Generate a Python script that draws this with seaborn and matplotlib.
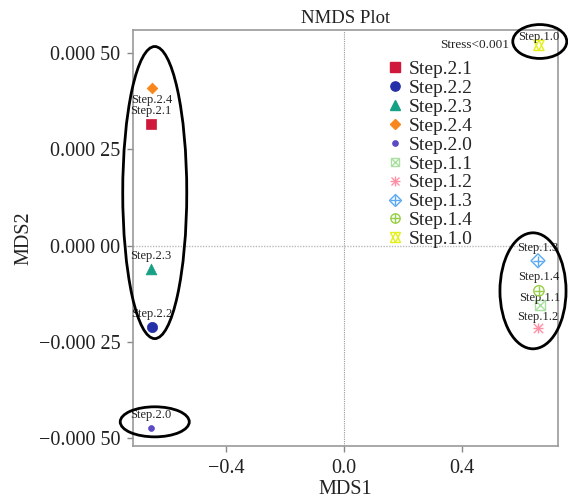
import matplotlib
matplotlib.use("Agg")
import matplotlib.pyplot as plt
from matplotlib.patches import Ellipse
from matplotlib.lines import Line2D
from matplotlib.legend_handler import HandlerTuple
from matplotlib.ticker import FixedLocator, FixedFormatter
import seaborn as sns

# NMDS scores
samples = ["Step.2.1", "Step.2.2", "Step.2.3", "Step.2.4", "Step.2.0",
           "Step.1.1", "Step.1.2", "Step.1.3", "Step.1.4", "Step.1.0"]
mds1 = [-0.654, -0.651, -0.654, -0.651, -0.654,
        0.664, 0.658, 0.658, 0.661, 0.661]
mds2 = [0.000317, -0.000210, -0.000060, 0.000410, -0.000473,
        -0.000153, -0.000213, -0.000039, -0.000117, 0.000520]

colors = ["#d0183c", "#2530a8", "#16a085", "#f7861c", "#5b4bc4",
          "#a9dfa0", "#ff8fa6", "#5aa9f2", "#96cf46", "#e4f018"]

xticks = [-0.4, 0.0, 0.4]
xtick_labels = ["\u22120.4", "0.0", "0.4"]
yticks = [0.0005, 0.00025, 0.0, -0.00025, -0.0005]
ytick_labels = ["0.000 50", "0.000 25", "0.000 00", "\u22120.000 25", "\u22120.000 50"]

# marker layers for each sample: (marker, kind, size)
# kind: "fill" solid, "open" hollow outline, "line" line-art marker
marker_layers = [
    [("s", "fill", 55)],
    [("o", "fill", 55)],
    [("^", "fill", 60)],
    [("D", "fill", 30)],
    [("o", "fill", 18)],
    [("s", "open", 50), ("x", "line", 50)],
    [("+", "line", 60), ("x", "line", 45)],
    [("D", "open", 50), ("+", "line", 60)],
    [("o", "open", 55), ("+", "line", 55)],
    [("^", "open", 55), ("v", "open", 55)],
]
# label offsets (points) relative to each point
label_offsets = [(0, 9), (0, 9), (0, 9), (0, -9), (0, 9),
                 (0, 5), (0, 8), (0, 9), (0, 10), (0, 6)]

# ellipses: (x, y, width, height)
ellipses = [(-0.641, 0.000138, 0.217, 0.000758),
            (-0.641, -0.000457, 0.234, 0.000078),
            (0.664, 0.000530, 0.183, 0.000088),
            (0.641, -0.000117, 0.224, 0.000301)]

sns.set_style("white")
plt.rcParams["font.family"] = ["Liberation Serif", "DejaVu Serif"]

fig = plt.figure(figsize=(5.68, 4.99), dpi=100)
ax = fig.add_axes([0.234, 0.106, 0.748, 0.834])

ax.axhline(0, color="#bbbbbb", lw=1.0, ls=(0, (1, 1)), zorder=0)
ax.axvline(0, color="#999999", lw=0.8, ls=(0, (1, 1)), zorder=0)

handles = []
for i, name in enumerate(samples):
    parts = []
    for m, kind, s in marker_layers[i]:
        ms = s ** 0.5 * 0.9
        if kind == "fill":
            sns.scatterplot(x=[mds1[i]], y=[mds2[i]], ax=ax, marker=m, s=s,
                            color=colors[i], edgecolor=colors[i], linewidth=0.5,
                            legend=False, zorder=3)
            parts.append(Line2D([], [], ls="", marker=m, color=colors[i], markersize=ms))
        elif kind == "open":
            sns.scatterplot(x=[mds1[i]], y=[mds2[i]], ax=ax, marker=m, s=s,
                            facecolor="none", edgecolor=colors[i], linewidth=1.0,
                            legend=False, zorder=3)
            parts.append(Line2D([], [], ls="", marker=m, color=colors[i],
                                mfc="none", mew=1.0, markersize=ms))
        else:
            sns.scatterplot(x=[mds1[i]], y=[mds2[i]], ax=ax, marker=m, s=s,
                            color=colors[i], linewidth=1.0,
                            legend=False, zorder=3)
            parts.append(Line2D([], [], ls="", marker=m, color=colors[i],
                                mew=1.0, markersize=ms))
    handles.append(tuple(parts))
    dx, dy = label_offsets[i]
    ax.annotate(name, (mds1[i], mds2[i]), xytext=(dx, dy), textcoords="offset points",
                ha="center", va="center", fontsize=9, color="#222222")

for cx, cy, w, h in ellipses:
    ax.add_patch(Ellipse((cx, cy), w, h, fill=False, edgecolor="black",
                         lw=2.0, clip_on=False, zorder=4))

ax.text(0.805, 0.964, "Stress<0.001", transform=ax.transAxes, fontsize=9.5,
        ha="center", va="center", color="#222222")

ax.legend(handles, samples, handler_map={tuple: HandlerTuple(ndivide=1)},
          loc="upper left", bbox_to_anchor=(0.58, 0.945), frameon=False,
          fontsize=14, labelspacing=0.065, handlelength=0.8, handletextpad=0.3,
          borderaxespad=0)

ax.set_xlim(-0.715, 0.725)
ax.set_ylim(-0.00052, 0.00056)
ax.xaxis.set_major_locator(FixedLocator(xticks))
ax.xaxis.set_major_formatter(FixedFormatter(xtick_labels))
ax.yaxis.set_major_locator(FixedLocator(yticks))
ax.yaxis.set_major_formatter(FixedFormatter(ytick_labels))
ax.tick_params(axis="both", direction="out", length=4, width=1, color="#888888",
               labelsize=14.5, labelcolor="#222222", bottom=True, left=True, pad=5)
for sp in ax.spines.values():
    sp.set_color("#999999")
    sp.set_linewidth(1.2)

ax.set_title("NMDS Plot", fontsize=13.5, pad=5, color="#222222")
ax.set_xlabel("MDS1", fontsize=14.5, labelpad=2, color="#222222")
ax.set_ylabel("MDS2", fontsize=14.5, labelpad=4, color="#222222")

fig.savefig("out.png", dpi=100)
